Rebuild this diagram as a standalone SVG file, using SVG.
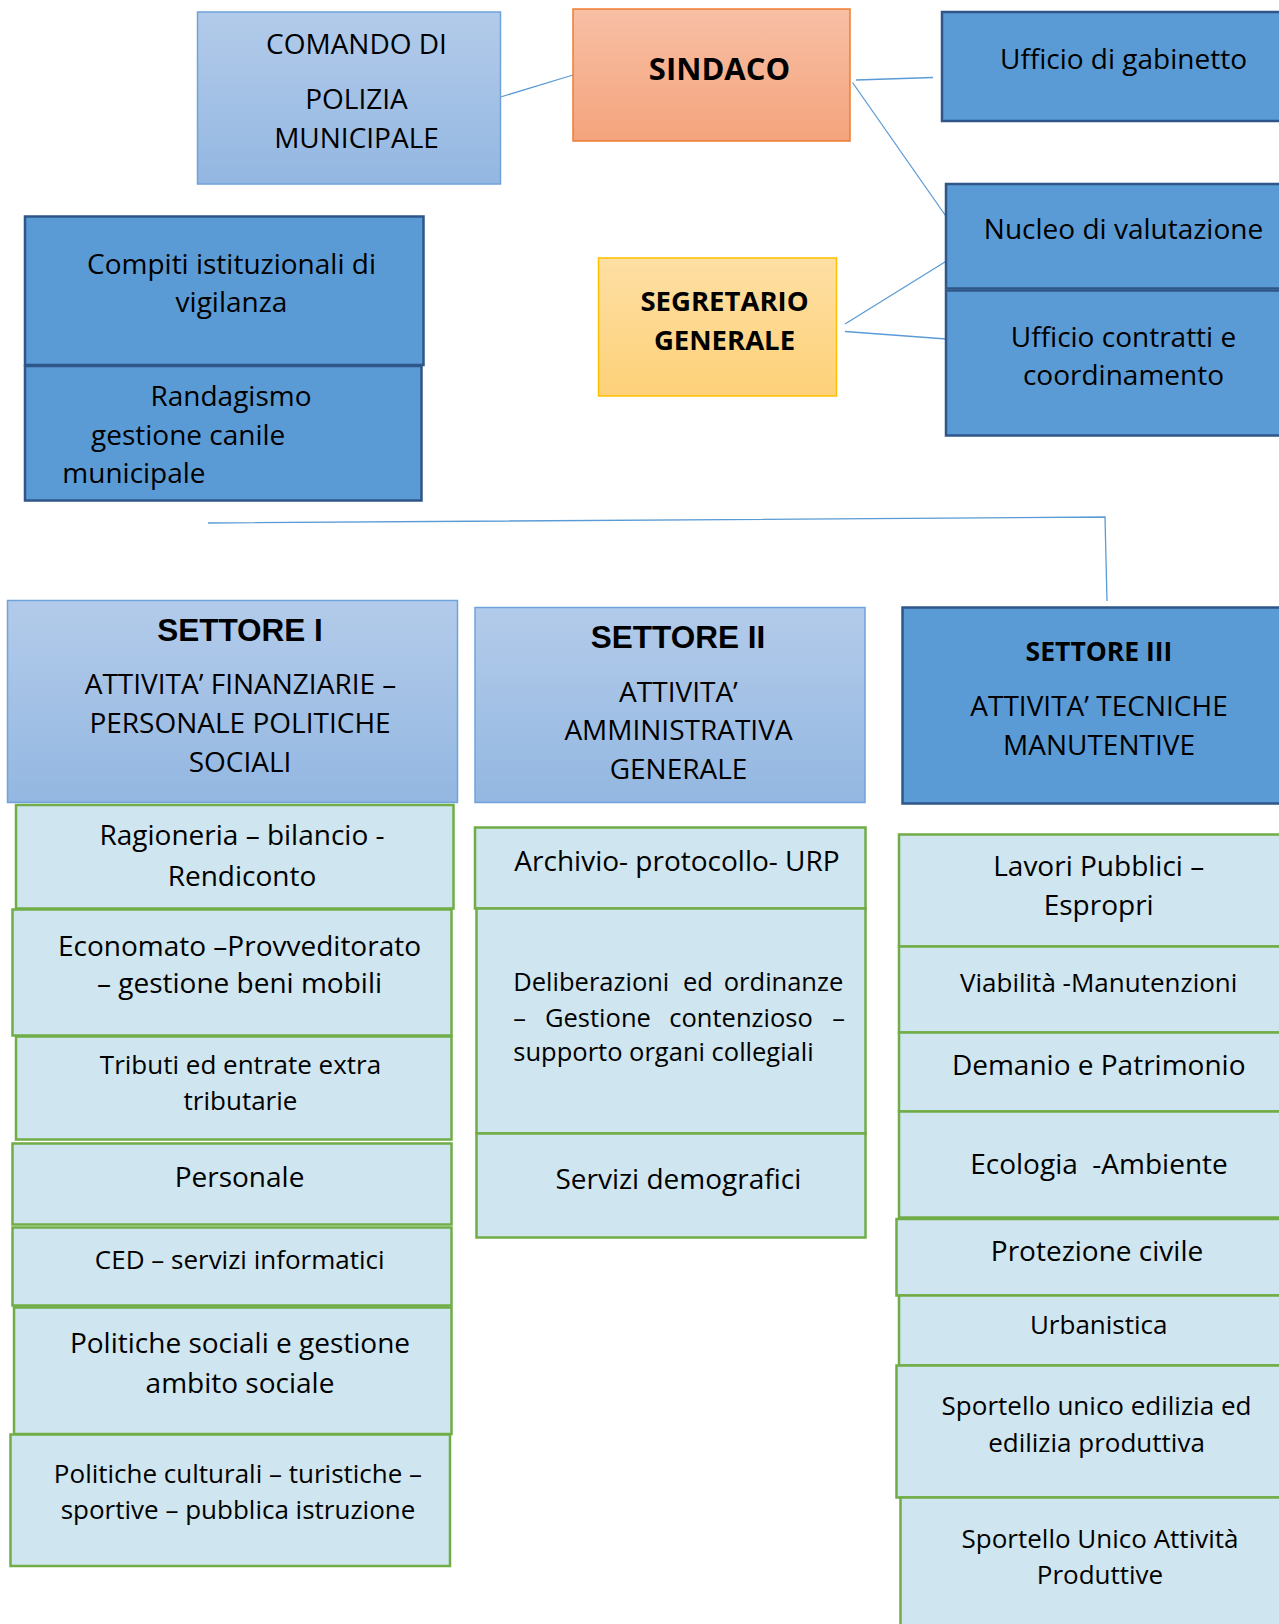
<svg xmlns="http://www.w3.org/2000/svg" width="1279" height="1624" viewBox="0 0 1279 1624">
<defs>
<linearGradient id="gBlue" x1="0" y1="0" x2="0" y2="1"><stop offset="0" stop-color="#b3cbea"/><stop offset="1" stop-color="#93b7e1"/></linearGradient>
<linearGradient id="gOrange" x1="0" y1="0" x2="0" y2="1"><stop offset="0" stop-color="#f8bfa5"/><stop offset="1" stop-color="#f4a47c"/></linearGradient>
<linearGradient id="gGold" x1="0" y1="0" x2="0" y2="1"><stop offset="0" stop-color="#fedfa3"/><stop offset="1" stop-color="#fdd179"/></linearGradient>
</defs>
<style>
.lt{fill:url(#gBlue);stroke:#6fa2db;stroke-width:1.5}
.dk{fill:#5b9bd5;stroke:#2f5688;stroke-width:2.5}
.gr{fill:#cfe5ef;stroke:#70ad47;stroke-width:2.5}
.conn{fill:none;stroke:#5b9bd5;stroke-width:1.3}
text{font-family:"Open Sans","Noto Sans",sans-serif;fill:#000;text-anchor:middle}
.b{font-size:28px}
.s{font-size:26px}
.bold{font-weight:bold}
.ar{font-family:"Liberation Sans",Arial,sans-serif;font-weight:bold;font-size:31.5px}
.st{text-anchor:start}
.en{text-anchor:end}
</style>
<g id="connectors">
<line class="conn" x1="500.5" y1="97" x2="573" y2="75"/>
<line class="conn" x1="856" y1="80" x2="933" y2="77.5"/>
<line class="conn" x1="852.5" y1="82.5" x2="946.5" y2="217"/>
<line class="conn" x1="845" y1="324" x2="946.5" y2="261"/>
<line class="conn" x1="845" y1="331.5" x2="946.5" y2="339"/>
<polyline class="conn" points="208,523 1105,517 1107,601"/>
</g>
<g id="comando">
<rect class="lt" x="197.5" y="12" width="303" height="172"/>
<text class="b" x="356.5" y="54">COMANDO DI</text>
<text class="b" x="356.5" y="109.3">POLIZIA</text>
<text class="b" x="356.5" y="147.7">MUNICIPALE</text>
</g>
<g id="sindaco">
<rect x="573" y="9" width="277" height="132" fill="url(#gOrange)" stroke="#ed7d31" stroke-width="1.5"/>
<text class="bold" style="font-size:31px" x="719.5" y="80">SINDACO</text>
</g>
<g id="gabinetto">
<rect class="dk" x="942" y="12" width="345" height="109"/>
<text class="b" x="1123.5" y="69">Ufficio di gabinetto</text>
</g>
<g id="nucleo">
<rect class="dk" x="946" y="184" width="345" height="104.5"/>
<text class="b" x="1123.5" y="239">Nucleo di valutazione</text>
</g>
<g id="contratti">
<rect class="dk" x="946" y="290.5" width="345" height="145"/>
<text class="b" x="1123.5" y="346.7">Ufficio contratti e</text>
<text class="b" x="1123.5" y="385">coordinamento</text>
</g>
<g id="compiti">
<rect class="dk" x="25" y="216.5" width="398.5" height="148.5"/>
<text class="b" x="231.5" y="274">Compiti istituzionali di</text>
<text class="b" x="231.5" y="311.7">vigilanza</text>
</g>
<g id="randagismo">
<rect class="dk" x="25" y="366" width="396.5" height="134.5"/>
<text class="b" x="231" y="405.7">Randagismo</text>
<text class="b st" x="91" y="445">gestione canile</text>
<text class="b st" x="62.3" y="483.3">municipale</text>
</g>
<g id="segretario">
<rect x="598.5" y="258" width="238" height="138" fill="url(#gGold)" stroke="#ffc000" stroke-width="1.5"/>
<text class="bold" style="font-size:27.5px" x="724.5" y="310.7">SEGRETARIO</text>
<text class="bold" style="font-size:27.5px" x="724.5" y="350">GENERALE</text>
</g>
<g id="settore1">
<rect class="lt" x="7.5" y="600.5" width="450" height="202"/>
<text class="ar" x="240" y="641">SETTORE I</text>
<text class="b" x="240.5" y="694.3">ATTIVITA’ FINANZIARIE –</text>
<text class="b" x="240" y="732.7">PERSONALE POLITICHE</text>
<text class="b" x="240" y="772.3">SOCIALI</text>
</g>
<g id="settore2">
<rect class="lt" x="475" y="607.5" width="390" height="195"/>
<text class="ar" x="678" y="647.7">SETTORE II</text>
<text class="b" x="678.5" y="701.7">ATTIVITA’</text>
<text class="b" x="678.5" y="740">AMMINISTRATIVA</text>
<text class="b" x="678.5" y="779">GENERALE</text>
</g>
<g id="settore3">
<rect class="dk" x="902.5" y="607.5" width="400" height="196"/>
<text class="bold" style="font-size:26.5px" x="1099" y="661">SETTORE III</text>
<text class="b" x="1099" y="716">ATTIVITA’ TECNICHE</text>
<text class="b" x="1099" y="755">MANUTENTIVE</text>
</g>
<g id="ragioneria">
<rect class="gr" x="16" y="805" width="437.5" height="103.5"/>
<text class="b" x="242" y="845">Ragioneria – bilancio -</text>
<text class="b" x="242" y="885.7">Rendiconto</text>
</g>
<g id="economato">
<rect class="gr" x="12.5" y="909.5" width="439" height="126"/>
<text class="b" x="239.5" y="955.7">Economato –Provveditorato</text>
<text class="b" x="239.5" y="993.3">– gestione beni mobili</text>
</g>
<g id="tributi">
<rect class="gr" x="16" y="1036.5" width="435.5" height="103"/>
<text class="s" x="240.5" y="1074">Tributi ed entrate extra</text>
<text class="s" x="240.5" y="1110">tributarie</text>
</g>
<g id="personale">
<rect class="gr" x="12.5" y="1143.5" width="439" height="81"/>
<text class="b" x="239.5" y="1187.3">Personale</text>
</g>
<g id="ced">
<rect class="gr" x="12.5" y="1227.5" width="439" height="78"/>
<text class="s" x="239.7" y="1269">CED – servizi informatici</text>
</g>
<g id="politiche-sociali">
<rect class="gr" x="14" y="1307.5" width="437.5" height="126.5"/>
<text class="b" x="240" y="1353.3">Politiche sociali e gestione</text>
<text class="b" x="240" y="1392.7">ambito sociale</text>
</g>
<g id="politiche-culturali">
<rect class="gr" x="10.5" y="1434.5" width="439.5" height="131.5"/>
<text class="s" x="238" y="1483.3">Politiche culturali – turistiche –</text>
<text class="s" x="238" y="1519.3">sportive – pubblica istruzione</text>
</g>
<g id="archivio">
<rect class="gr" x="475" y="827.5" width="390.5" height="81"/>
<text class="b" x="677" y="871">Archivio- protocollo- URP</text>
</g>
<g id="deliberazioni">
<rect class="gr" x="476.5" y="908.5" width="389" height="225"/>
<text style="font-size:25.5px" class="st" x="513.3" y="991">Deliberazioni</text>
<text style="font-size:25.5px" class="st" x="683" y="991">ed</text>
<text style="font-size:25.5px" class="en" x="843.3" y="991">ordinanze</text>
<text style="font-size:25.5px" class="st" x="513.3" y="1026.7">–</text>
<text style="font-size:25.5px" class="st" x="545" y="1026.7">Gestione</text>
<text style="font-size:25.5px" class="st" x="669.3" y="1026.7">contenzioso</text>
<text style="font-size:25.5px" class="en" x="845" y="1026.7">–</text>
<text style="font-size:25.5px" class="st" x="513.3" y="1060.7">supporto organi collegiali</text>
</g>
<g id="servizi">
<rect class="gr" x="476.5" y="1133.5" width="389" height="104"/>
<text class="b" x="678.3" y="1189.3">Servizi demografici</text>
</g>
<g id="lavori">
<rect class="gr" x="899" y="834.5" width="395" height="112"/>
<text class="b" x="1098.7" y="876">Lavori Pubblici –</text>
<text class="b" x="1098.7" y="915">Espropri</text>
</g>
<g id="viabilita">
<rect class="gr" x="899" y="946.5" width="395" height="86"/>
<text class="s" x="1098.7" y="992.3">Viabilità -Manutenzioni</text>
</g>
<g id="demanio">
<rect class="gr" x="899" y="1032.5" width="395" height="79"/>
<text class="b" x="1098.7" y="1075">Demanio e Patrimonio</text>
</g>
<g id="ecologia">
<rect class="gr" x="899" y="1111.5" width="395" height="106"/>
<text class="b" x="1099" y="1174" xml:space="preserve">Ecologia  -Ambiente</text>
</g>
<g id="protezione">
<rect class="gr" x="896.5" y="1219" width="397" height="76.5"/>
<text class="b" x="1097" y="1260.7">Protezione civile</text>
</g>
<g id="urbanistica">
<rect class="gr" x="899" y="1295.5" width="395" height="70"/>
<text class="s" x="1098.7" y="1334.3">Urbanistica</text>
</g>
<g id="sportello-edilizia">
<rect class="gr" x="896.5" y="1365.5" width="397" height="132"/>
<text class="s" x="1096.5" y="1415">Sportello unico edilizia ed</text>
<text class="s" x="1096.5" y="1451.7">edilizia produttiva</text>
</g>
<g id="suap">
<rect class="gr" x="900.5" y="1497.5" width="393" height="140"/>
<text class="s" x="1100" y="1548.3">Sportello Unico Attività</text>
<text class="s" x="1100" y="1584">Produttive</text>
</g>
</svg>
